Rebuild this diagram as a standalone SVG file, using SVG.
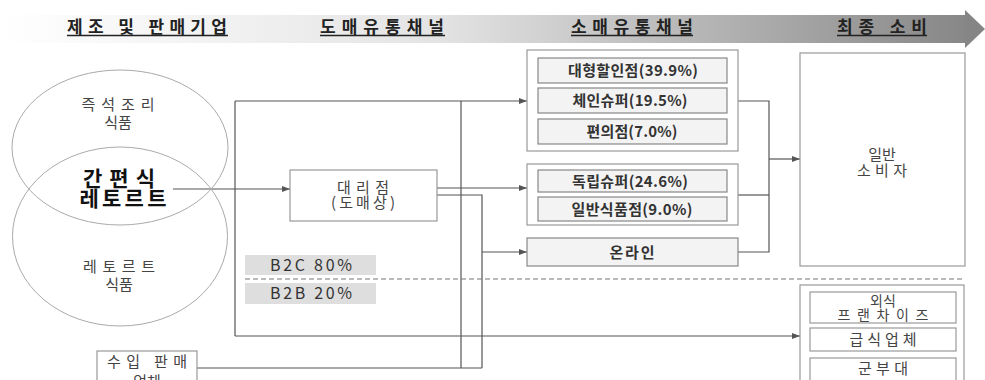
<svg xmlns="http://www.w3.org/2000/svg" width="985" height="380" viewBox="0 0 985 380">
<style>
.hdr{font-family:"Noto Sans CJK KR","Liberation Sans",sans-serif;font-size:17px;font-weight:bold;fill:#222;text-anchor:middle}
.ul{stroke:#222;stroke-width:1.3}
.t{font-family:"Noto Sans CJK KR","Liberation Sans",sans-serif;font-size:15px;fill:#444;text-anchor:middle}
.tb{font-family:"Noto Sans CJK KR","Liberation Sans",sans-serif;font-size:15px;font-weight:bold;fill:#333;text-anchor:middle}
.big{font-family:"Noto Sans CJK KR","Liberation Sans",sans-serif;font-size:21px;font-weight:bold;fill:#111;text-anchor:middle}
.circ{fill:none;stroke:#aaa;stroke-width:1}
.box{fill:#fff;stroke:#999;stroke-width:1.2}
.ibox{fill:#f3f3f3;stroke:#888;stroke-width:1.2}
.gbox{fill:#dedede;stroke:none}
.ln{fill:none;stroke:#555;stroke-width:1.2}
</style>
<defs>
<linearGradient id="band" x1="0" y1="0" x2="1" y2="0">
<stop offset="0" stop-color="#ffffff"/>
<stop offset="0.45" stop-color="#e4e4e4"/>
<stop offset="1" stop-color="#878787"/>
</linearGradient>
<marker id="ah" markerWidth="8" markerHeight="6" refX="8" refY="3" orient="auto" markerUnits="userSpaceOnUse">
<path d="M0,0 L8,3 L0,6 Z" fill="#555"/>
</marker>
</defs>

<g id="header">
<rect x="0" y="15" width="966" height="28" fill="url(#band)"/>
<polygon points="965,10 985,29 965,48" fill="#858585"/>
<text class="hdr" x="147" y="33" textLength="160" lengthAdjust="spacing">제조 및 판매기업</text>
<line class="ul" x1="67" y1="35.5" x2="228" y2="35.5"/>
<text class="hdr" x="382" y="33" textLength="124" lengthAdjust="spacing">도매유통채널</text>
<line class="ul" x1="320" y1="35.5" x2="445" y2="35.5"/>
<text class="hdr" x="632" y="33" textLength="122" lengthAdjust="spacing">소매유통채널</text>
<line class="ul" x1="571" y1="35.5" x2="693" y2="35.5"/>
<text class="hdr" x="882" y="33" textLength="90" lengthAdjust="spacing">최종 소비</text>
<line class="ul" x1="837" y1="35.5" x2="927" y2="35.5"/>
</g>

<g id="connectors">
<line class="ln" x1="173" y1="189" x2="290" y2="189" marker-end="url(#ah)"/>
<polyline class="ln" points="235,101 235,336"/>
<line class="ln" x1="235" y1="101" x2="527" y2="101" marker-end="url(#ah)"/>
<line class="ln" x1="235" y1="336" x2="800" y2="336" marker-end="url(#ah)"/>
<line class="ln" x1="461" y1="101" x2="461" y2="368"/>
<line class="ln" x1="437" y1="188" x2="527" y2="188" marker-end="url(#ah)"/>
<polyline class="ln" points="437,195 482,195 482,368"/>
<line class="ln" x1="482" y1="252" x2="527" y2="252" marker-end="url(#ah)"/>
<line class="ln" x1="197" y1="368" x2="482" y2="368"/>
<polyline class="ln" points="738,101 769,101 769,252 738,252"/>
<line class="ln" x1="738" y1="195" x2="769" y2="195"/>
<line class="ln" x1="769" y1="159" x2="800" y2="159" marker-end="url(#ah)"/>
<line x1="245" y1="279" x2="962" y2="279" stroke="#777" stroke-width="1" stroke-dasharray="5,3"/>
</g>

<g id="circle-instant">
<ellipse class="circ" cx="120" cy="147.5" rx="108" ry="77.5"/>
<text class="t" x="118" y="110" textLength="73" lengthAdjust="spacing">즉석조리</text>
<text class="t" x="118" y="128">식품</text>
</g>
<g id="circle-retort">
<ellipse class="circ" cx="120" cy="236.5" rx="107.5" ry="89.5"/>
<text class="t" x="119" y="272" textLength="72" lengthAdjust="spacing">레토르트</text>
<text class="t" x="119" y="290">식품</text>
</g>
<g id="label-main">
<text class="big" x="119" y="186" textLength="72" lengthAdjust="spacing">간편식</text>
<text class="big" x="123" y="206" textLength="87" lengthAdjust="spacing">레토르트</text>
</g>

<g id="wholesaler">
<rect class="box" x="290" y="170" width="147" height="51"/>
<text class="t" x="363" y="193" textLength="52" lengthAdjust="spacing">대리점</text>
<text class="t" x="363" y="208" textLength="64" lengthAdjust="spacing">(도매상)</text>
</g>

<g id="b2c">
<rect class="gbox" x="245" y="255" width="131" height="20"/>
<text class="t" x="311" y="271" style="font-size:16px;fill:#333" textLength="82" lengthAdjust="spacing">B2C 80%</text>
</g>
<g id="b2b">
<rect class="gbox" x="245" y="283" width="131" height="21"/>
<text class="t" x="311" y="299" style="font-size:16px;fill:#333" textLength="82" lengthAdjust="spacing">B2B 20%</text>
</g>

<g id="importer">
<rect class="box" x="97" y="351" width="100" height="40"/>
<text class="t" x="147" y="367" textLength="80" lengthAdjust="spacing">수입 판매</text>
<text class="t" x="147" y="387">업체</text>
</g>

<g id="retail-group1">
<rect class="box" x="527" y="50" width="211" height="101"/>
<rect class="ibox" x="538" y="58" width="189" height="25"/>
<text class="tb" x="633" y="76" textLength="130" lengthAdjust="spacing">대형할인점(39.9%)</text>
<rect class="ibox" x="538" y="88" width="189" height="25"/>
<text class="tb" x="630" y="106" textLength="115" lengthAdjust="spacing">체인슈퍼(19.5%)</text>
<rect class="ibox" x="538" y="119" width="189" height="25"/>
<text class="tb" x="632" y="137" textLength="91" lengthAdjust="spacing">편의점(7.0%)</text>
</g>

<g id="retail-group2">
<rect class="box" x="527" y="164" width="211" height="61"/>
<rect class="ibox" x="538" y="170" width="189" height="22"/>
<text class="tb" x="630" y="187" textLength="116" lengthAdjust="spacing">독립슈퍼(24.6%)</text>
<rect class="ibox" x="538" y="197" width="189" height="24"/>
<text class="tb" x="632" y="215" textLength="121" lengthAdjust="spacing">일반식품점(9.0%)</text>
</g>

<g id="online">
<rect class="ibox" x="527" y="238" width="211" height="28"/>
<text class="tb" x="632" y="258" textLength="45" lengthAdjust="spacing">온라인</text>
</g>

<g id="consumer">
<rect class="box" x="800" y="53" width="165" height="213"/>
<text class="t" x="882" y="160">일반</text>
<text class="t" x="882" y="176" textLength="50" lengthAdjust="spacing">소비자</text>
</g>

<g id="b2b-group">
<rect class="box" x="800" y="285" width="164" height="110"/>
<rect class="box" x="810" y="292" width="146" height="31"/>
<text class="t" x="883" y="306" style="font-size:14px">외식</text>
<text class="t" x="883" y="320" style="font-size:14px" textLength="91" lengthAdjust="spacing">프랜차이즈</text>
<rect class="box" x="810" y="328" width="146" height="23"/>
<text class="t" x="883" y="345" textLength="67" lengthAdjust="spacing">급식업체</text>
<rect class="box" x="810" y="358" width="146" height="30"/>
<text class="t" x="883" y="374" textLength="50" lengthAdjust="spacing">군부대</text>
</g>
</svg>
